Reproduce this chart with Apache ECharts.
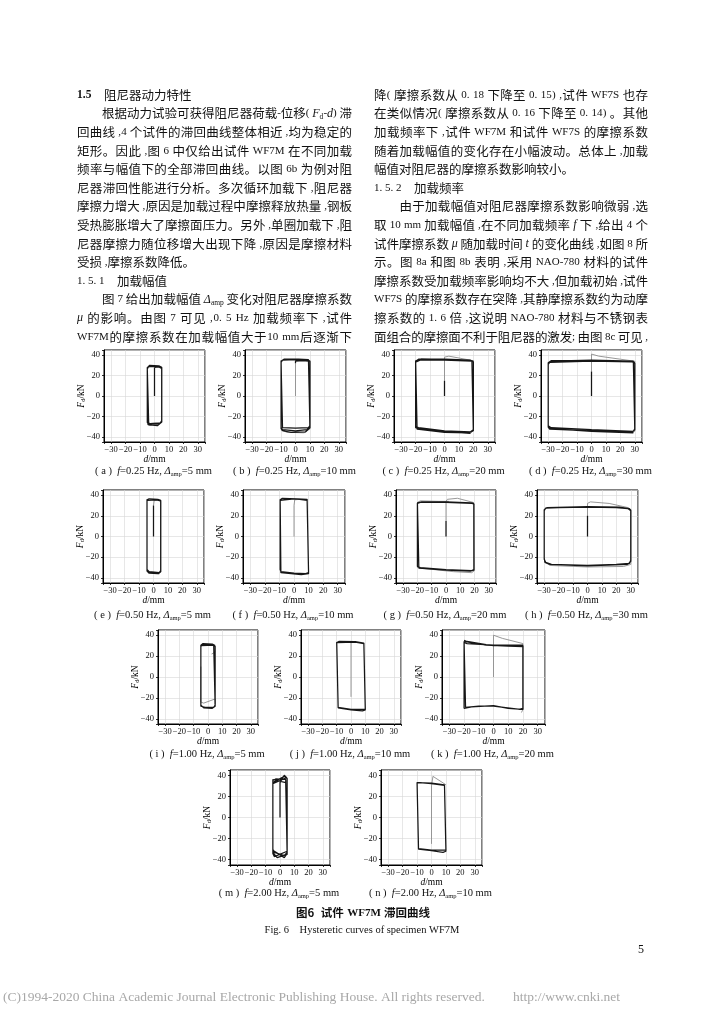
<!DOCTYPE html>
<html>
<head>
<meta charset="utf-8">
<script src="https://cdn.jsdelivr.net/npm/echarts@6/dist/echarts.min.js"></script>
<style>
html,body{margin:0;padding:0;background:#fff}
#main{width:724px;height:1024px}
</style>
</head>
<body>
<div id="main"></div>
<script>
// ---------- 数据：滞回曲线 (d/mm, Fd/kN) ----------
// (a) 0.25 Hz, 5 mm
const a_start=[[0,0],[0,28]];
const a_loop=[[0,28],[3,28.5],[5,27],[5,-24],[4,-26.5],[-3,-27],[-5,-26],[-5,26.5],[-4,29],[2,29],[5,27.5],[5,-25],[3,-28],[-4,-28.5],[-5,-27],[-5,27],[-3.5,30],[3,29.5],[5,28],[5,-25.5],[2,-29],[-4.5,-28],[-5,-27.5],[-5,28],[-3,29],[4,28.5],[5,27]];
const a_gray=[[5,28.5],[5,-26],[4,-27.5],[-4,-27],[-5,-26.5]];
// (b) 0.25 Hz, 10 mm
const b_start=[[0,0],[0,32]];
const b_loop=[[0,32],[0,34],[5,34.5],[9,34],[10,33],[10,-29],[9,-31],[0,-31.5],[-9,-31],[-10,-29.5],[-10,33],[-9,35],[0,35.5],[8,35],[10,34],[10,-30],[8,-33],[0,-34],[-9,-33],[-10,-31],[-10,34],[-8,36],[2,36],[9,35.5],[10,34.5],[10,-31],[7,-35],[-3,-35.5],[-9,-34],[-10,-32],[-10,34.5],[-7,35.5],[9,35],[10,34]];
const b_gray=[[10,35],[10,-32],[6,-36],[-6,-35.5],[-10,-33]];
// (c) 0.25 Hz, 20 mm
const c_start=[[0,0],[0,15]];
const c_gray=[[0,15],[0,38],[3,39],[20,34.5],[20,-34],[18,-36.5]];
const c_loop=[[18,-36.5],[0,-35],[-18,-32],[-20,-31],[-20,34],[-18,36],[0,35.5],[18,34.5],[20,33.5],[20,-33],[18,-35],[0,-34],[-18,-31],[-20,-30],[-20,33],[-17,35],[0,35],[19,34],[20,33],[20,-34],[17,-36],[0,-35.5],[-19,-32.5],[-20,-31.5],[-20,34.5],[-16,36],[0,36],[18,35],[20,34]];
// (d) 0.25 Hz, 30 mm
const d_start=[[0,0],[0,24]];
const d_gray=[[0,24],[0,41],[5,39],[20,36],[30,34],[30,-34],[29,-36]];
const d_loop=[[29,-36],[0,-34.5],[-28,-32],[-30,-30],[-30,31],[-29,33],[0,34],[28,33.5],[30,32],[30,-32],[29,-34.5],[0,-33],[-28,-31],[-30,-29],[-30,32],[-28,34],[0,35],[29,34],[30,33],[30,-33],[28,-35.5],[0,-34],[-29,-32.5],[-30,-30.5],[-30,32.5],[-28,34.5],[0,34.5],[29,33.5],[30,32.5]];
// (e) 0.50 Hz, 5 mm
const e_start=[[0,0],[0,30]];
const e_gray=[[0,30],[0.5,35],[3,35.5],[5,34],[5,-34],[4,-36]];
const e_loop=[[4,-36],[-3,-35],[-4.5,-33],[-4.5,35],[-3.5,36],[2,35.5],[5,34.5],[5,-33],[4,-35],[-3,-34],[-4.5,-32],[-4.5,35.5],[-3,36.5],[3,36],[5,35],[5,-34],[3,-36],[-3,-35.5],[-4.5,-33.5],[-4.5,36]];
// (f) 0.50 Hz, 10 mm
const f_gray=[[0,0],[0,30],[0.5,35.5],[4,36]];
const f_loop=[[4,36],[9,35],[10,34],[10,-35],[8,-36],[0,-35.5],[-9,-34],[-9.5,-32],[-9.5,35],[-8.5,36.5],[0,36.5],[9,35.5],[10,34.5],[10,-35.5],[7,-36.5],[0,-36],[-9,-34.5],[-9.5,-33],[-9.5,35.5],[-8,37],[2,36.5],[9,36],[10,35],[10,-36],[5,-37],[-9,-35],[-9.5,-33.5],[-9.5,36]];
// (g) 0.50 Hz, 20 mm
const g_start=[[0,0],[0,15]];
const g_gray=[[0,15],[0,34],[1,36],[8,37],[19,33],[19.5,31]];
const g_loop=[[19.5,31],[19.5,-32],[18,-33],[0,-32],[-18,-30],[-20,-29],[-20,32],[-18,33],[0,33],[18,32],[19.5,31.5],[19.5,-32.5],[17,-33.5],[0,-32.5],[-19,-30.5],[-20,-29.5],[-20,32.5],[-17,33.5],[0,33.5],[18,32.5],[19.5,32]];
const g_gray2=[[19.5,32],[20,-33],[18,-35],[5,-34],[-15,-31],[-20,-30],[-20,33],[-18,34.5],[-5,34],[2,34]];
// (h) 0.50 Hz, 30 mm
const h_start=[[0,0],[0,20]];
const h_gray=[[0,20],[0,32],[2,33.5],[15,32],[28,28],[30,26]];
const h_loop=[[30,26],[30,-23],[29,-26],[20,-27],[0,-28],[-25,-27],[-29,-25],[-30,-22],[-30,25],[-29,27.5],[-20,28],[0,28.5],[20,28],[28,27],[30,25],[30,-24],[28,-27],[0,-28.5],[-26,-27],[-29.5,-25],[-30,-21],[-30,26],[-28,28],[0,29],[22,28.5],[29,27],[30,25.5]];
const h_gray2=[[30,25],[30,-27],[25,-29],[0,-29.5],[-26,-28],[-30,-24]];
// (i) 1.00 Hz, 5 mm
const i_loop=[[-5,30],[-4,31],[4,30.5],[5,29],[5,-27],[4,-29],[-2,-29],[-5,-28],[-5,29],[-4,31.5],[3,31],[5,29.5],[5,-28],[3,-30],[-3,-29.5],[-5,-27],[-5,30.5],[-3.5,32],[3,31.5],[5,30]];
const i_gray=[[-5,10],[-5,-24],[-3,-25],[5,-21],[5,-26]];
const i_gray2=[[2.5,22],[4,23],[5,25]];
// (j) 1.00 Hz, 10 mm
const j_gray=[[0,-19],[0,33]];
const j_loop=[[-10,33],[-9,33.5],[3,33.5],[9,32],[10,31],[10,-31],[9,-32],[0,-31],[-9,-29],[-10,-28],[-10,33],[-8.5,34],[3,33.8],[9,32.5],[10,31.5],[10,-31.5],[8,-32.5],[0,-31.5],[-9,-29.5],[-10,-28.5],[-10,33.5]];
// (k) 1.00 Hz, 20 mm
const k_gray=[[0,0],[0,40],[6,37],[20,32],[20,-31],[19,-34]];
const k_loop=[[-20,35],[-18,34],[-5,31],[0,30],[15,30],[20,30],[20,-30],[18,-31],[0,-28],[-10,-28],[-19,-29],[-20,-29],[-20,34],[-19,33],[-5,30.5],[10,29.5],[20,29],[20,-31],[10,-30],[0,-27.5],[-15,-28.5],[-20,-30],[-20,33],[-18,32],[0,30.5],[20,30.5]];
// (m) 2.00 Hz, 5 mm
const m_loop=[[0,0],[0,33],[2,38],[3,40],[5,37],[5,-34],[3,-38],[-5,-31],[-5,33],[3,39],[5,37],[5,-32],[-4,-37],[-5,-34],[-5,36],[4,33],[5,34],[5,-33],[3,-36],[-4,-33],[-5,-30],[-5,35],[-3,36.5],[4,36],[5,35],[5,-35],[-2,-38],[-5,-33],[-5,32],[5,38]];
// (n) 2.00 Hz, 10 mm
const n_gray=[[0,-25],[0,30],[1,39],[10,31]];
const n_loop=[[-10,33],[-9,33.5],[0,32.5],[9,31],[10,30],[10,-31],[9,-32.5],[0,-31],[-9,-29.5],[-10,-29],[-10,33],[-8,33],[0,32],[9,30.5],[10,30.5],[10,-32],[8,-33],[0,-31.5],[-9,-30],[-10,-29.5],[-10,33.5]];

// 分图标签
const panelTags=['a','b','c','d','e','f','g','h','i','j','k','m','n'];
const freqLabels=['0.25','0.25','0.25','0.25','0.50','0.50','0.50','0.50','1.00','1.00','1.00','2.00','2.00'];
const ampLabels=['5','10','20','30','5','10','20','30','5','10','20','5','10'];
const xTicks=[-30,-20,-10,0,10,20,30];
const yTicks=[-40,-20,0,20,40];

// 每个分图的曲线: [曲线, 深/浅]
const panelPaths=[
	[[a_gray,0],[a_start,1],[a_loop,1]],
	[[b_gray,0],[b_start,0],[b_loop,1]],
	[[c_gray,0],[c_start,1],[c_loop,1]],
	[[d_gray,0],[d_start,1],[d_loop,1]],
	[[e_gray,0],[e_start,1],[e_loop,1]],
	[[f_gray,0],[f_loop,1]],
	[[g_gray,0],[g_gray2,0],[g_start,1],[g_loop,1]],
	[[h_gray,0],[h_gray2,0],[h_start,1],[h_loop,1]],
	[[i_gray,0],[i_gray2,0],[i_loop,1]],
	[[j_gray,0],[j_loop,1]],
	[[k_gray,0],[k_loop,1]],
	[[m_loop,1]],
	[[n_gray,0],[n_loop,1]]
];

// 正文
const leftLines=[
	'{b|1.5}　阻尼器动力特性',
	'　　根据动力试验可获得阻尼器荷载-位移( {i|F}{s|d}-{i|d}) 滞',
	'回曲线 ,4 个试件的滞回曲线整体相近 ,均为稳定的',
	'矩形。因此 ,图 6 中仅给出试件 WF7M 在不同加载',
	'频率与幅值下的全部滞回曲线。以图 6b 为例对阻',
	'尼器滞回性能进行分析。多次循环加载下 ,阻尼器',
	'摩擦力增大 ,原因是加载过程中摩擦释放热量 ,钢板',
	'受热膨胀增大了摩擦面压力。另外 ,单圈加载下 ,阻',
	'尼器摩擦力随位移增大出现下降 ,原因是摩擦材料',
	'受损 ,摩擦系数降低。',
	'1. 5. 1　加载幅值',
	'　　图 7 给出加载幅值 {i|Δ}{s|amp} 变化对阻尼器摩擦系数',
	'{i|μ} 的影响。由图 7 可见 ,0. 5 Hz 加载频率下 ,试件',
	'WF7M的摩擦系数在加载幅值大于10 mm后逐渐下'
];
const rightLines=[
	'降( 摩擦系数从 0. 18 下降至 0. 15) ,试件 WF7S 也存',
	'在类似情况( 摩擦系数从 0. 16 下降至 0. 14) 。其他',
	'加载频率下 ,试件 WF7M 和试件 WF7S 的摩擦系数',
	'随着加载幅值的变化存在小幅波动。总体上 ,加载',
	'幅值对阻尼器的摩擦系数影响较小。',
	'1. 5. 2　加载频率',
	'　　由于加载幅值对阻尼器摩擦系数影响微弱 ,选',
	'取 10 mm 加载幅值 ,在不同加载频率 {i|f} 下 ,给出 4 个',
	'试件摩擦系数 {i|μ} 随加载时间 {i|t} 的变化曲线 ,如图 8 所',
	'示。图 8a 和图 8b 表明 ,采用 NAO-780 材料的试件',
	'摩擦系数受加载频率影响均不大 ,但加载初始 ,试件',
	'WF7S 的摩擦系数存在突降 ,其静摩擦系数约为动摩',
	'擦系数的 1. 6 倍 ,这说明 NAO-780 材料与不锈钢表',
	'面组合的摩擦面不利于阻尼器的激发; 由图 8c 可见 ,'
];
const leftRagged=[0,9,10];
const rightRagged=[4,5];

// ---------- 版面 ----------
const SERIF='"Liberation Serif"';
const CJK='"Noto Sans CJK SC"';
const boxes=[
	[104,350,101,92],[245,350,101,92],[394,350,101,92],[541,350,101,92],
	[103,490,101,93],[243,490,102,93],[396,490,100,93],[537,490,101,93],
	[158,630,100,94],[301,630,100,94],[442,630,103,94],
	[230,770,100,95],[381,770,101,95]
];
const captionY=[471,471,471,471,615,615,615,615,754,754,754,893,893];

let chart=echarts.init(document.getElementById('main'));

//测量文字
let ctx=document.createElement('canvas').getContext('2d');
function tokStyle(kind){
	switch(kind){
		case 'b': return {fontWeight:'bold',fontSize:11.5,fontFamily:SERIF};
		case 'i': return {fontStyle:'italic',fontSize:12,fontFamily:SERIF};
		case 's': return {fontSize:7.5,fontFamily:SERIF,dy:3};
		case 'l': return {fontSize:11,fontFamily:SERIF};
		default: return {fontSize:12.5,fontFamily:CJK};
	}
}
function measure(text,st){
	ctx.font=(st.fontStyle||'normal')+' '+(st.fontWeight||'normal')+' '+st.fontSize+'px '+st.fontFamily;
	return ctx.measureText(text).width;
}
function tokenize(line){
	let re=/\{([a-z])\|([^}]*)\}|([A-Za-z0-9.\-]+)|(.)/gu;
	let out=[],m;
	while((m=re.exec(line))!==null){
		if(m[1]) out.push({t:m[2],k:m[1]});
		else if(m[3]) out.push({t:m[3],k:'l'});
		else out.push({t:m[4],k:/[\x00-\x7f]/.test(m[4])?'l':'c'});
	}
	return out;
}
function layoutColumn(lines,ragged,x0,width,y0,dy,els){
	lines.forEach(function(line,li){
		let toks=tokenize(line);
		let total=0;
		toks.forEach(function(t){t.st=tokStyle(t.k);t.w=measure(t.t,t.st);total+=t.w;});
		let gap=0;
		if(ragged.indexOf(li)<0 && toks.length>1){
			gap=(width-total)/(toks.length-1);
		}
		let x=x0,y=y0+li*dy;
		toks.forEach(function(t){
			if(t.t.trim()!==''&&t.t!=='　'){
				els.push({type:'text',x:x,y:y+(t.st.dy||0),silent:true,style:{
					text:t.t,fill:'#111',fontSize:t.st.fontSize,fontFamily:t.st.fontFamily,
					fontStyle:t.st.fontStyle||'normal',fontWeight:t.st.fontWeight||'normal',
					align:'left',verticalAlign:'middle'}});
			}
			x+=t.w+gap;
		});
	});
}

let graphics=[];
layoutColumn(leftLines,leftRagged,77,275,95,18.6,graphics);
layoutColumn(rightLines,rightRagged,374,274,95,18.6,graphics);

//分图说明
let capRich={
	i:{fontStyle:'italic',fontFamily:SERIF,fontSize:10.5,lineHeight:13},
	s:{fontFamily:SERIF,fontSize:6.5,lineHeight:6,verticalAlign:'bottom'}
};
panelTags.forEach(function(tag,i){
	let b=boxes[i];
	graphics.push({type:'text',x:b[0]+b[2]/2-1,y:captionY[i],silent:true,style:{
		text:'( '+tag+' )  {i|f}=' + freqLabels[i] + ' Hz, {i|Δ}{s|amp}=' + ampLabels[i] + ' mm',
		fontFamily:SERIF,fontSize:10.5,lineHeight:13,fill:'#111',align:'center',verticalAlign:'middle',rich:capRich}});
});
graphics.push({type:'text',x:363,y:913,silent:true,style:{
	text:'{c|图6}  {c|试件} {l|WF7M} {c|滞回曲线}',align:'center',verticalAlign:'middle',fill:'#111',
	rich:{c:{fontFamily:CJK,fontSize:11.5,fontWeight:'bold'},l:{fontFamily:SERIF,fontSize:11,fontWeight:'bold'}}}});
graphics.push({type:'text',x:362,y:930,silent:true,style:{
	text:'Fig. 6    Hysteretic curves of specimen WF7M',fontFamily:SERIF,fontSize:10.5,fill:'#111',align:'center',verticalAlign:'middle'}});
graphics.push({type:'text',x:641,y:950,silent:true,style:{
	text:'5',fontFamily:SERIF,fontSize:12,fill:'#111',align:'center',verticalAlign:'middle'}});
graphics.push({type:'text',x:3,y:997,silent:true,style:{
	text:'(C)1994-2020 China Academic Journal Electronic Publishing House. All rights reserved.',fontFamily:SERIF,fontSize:13.5,fill:'#a8a8a8',align:'left',verticalAlign:'middle'}});
graphics.push({type:'text',x:513,y:997,silent:true,style:{
	text:'http://www.cnki.net',fontFamily:SERIF,fontSize:13.5,fill:'#a8a8a8',align:'left',verticalAlign:'middle'}});

function fmtTick(list){
	return function(v){
		for(let k=0;k<list.length;k++){
			if(Math.abs(list[k]-v)<1e-6) return v<0?'\u2212'+(-v):String(v);
		}
		return '';
	};
}
let nameRich={
	i:{fontStyle:'italic',fontFamily:SERIF,fontSize:9.5,lineHeight:11},
	s:{fontFamily:SERIF,fontSize:6.5,lineHeight:6,verticalAlign:'bottom'},
	t:{fontFamily:SERIF,fontSize:9.5,lineHeight:11}
};
let grids=[],xAxes=[],yAxes=[],series=[];
boxes.forEach(function(b,i){
	grids.push({left:b[0],top:b[1],width:b[2],height:b[3],show:true,borderColor:'#000',borderWidth:1,backgroundColor:'transparent'});
	xAxes.push({gridIndex:i,type:'value',min:-35,max:35,splitNumber:7,
		axisLine:{onZero:false,lineStyle:{color:'#000',width:1}},
		axisTick:{length:2,lineStyle:{color:'#000',width:0.8}},
		axisLabel:{fontSize:8.5,fontFamily:SERIF,color:'#111',margin:3,formatter:fmtTick(xTicks)},
		splitLine:{show:true,lineStyle:{color:'#d6d6d6',width:0.6}},
		name:'{i|d}{t|/mm}',nameLocation:'middle',nameGap:12,nameMoveOverlap:false,nameTextStyle:{rich:nameRich}});
	yAxes.push({gridIndex:i,type:'value',min:-45,max:45,splitNumber:4,
		axisLine:{onZero:false,lineStyle:{color:'#000',width:1}},
		axisTick:{length:2,lineStyle:{color:'#000',width:0.8}},
		axisLabel:{fontSize:8.5,fontFamily:SERIF,color:'#111',margin:4,formatter:fmtTick(yTicks)},
		splitLine:{show:true,lineStyle:{color:'#d6d6d6',width:0.6}},
		name:'{i|F}{s|d}{t|/kN}',nameLocation:'middle',nameGap:17,nameMoveOverlap:false,nameTextStyle:{rich:nameRich}});
	panelPaths[i].forEach(function(p){
		series.push({type:'line',xAxisIndex:i,yAxisIndex:i,data:p[0],showSymbol:false,symbol:'none',
			silent:true,animation:false,z:p[1]?4:3,
			lineStyle:{color:p[1]?'#161616':'#8c8c8c',width:p[1]?1.25:0.9}});
	});
});

chart.setOption({
	backgroundColor:'#fff',
	animation:false,
	grid:grids,
	xAxis:xAxes,
	yAxis:yAxes,
	series:series,
	graphic:graphics
});
</script>
</body>
</html>
